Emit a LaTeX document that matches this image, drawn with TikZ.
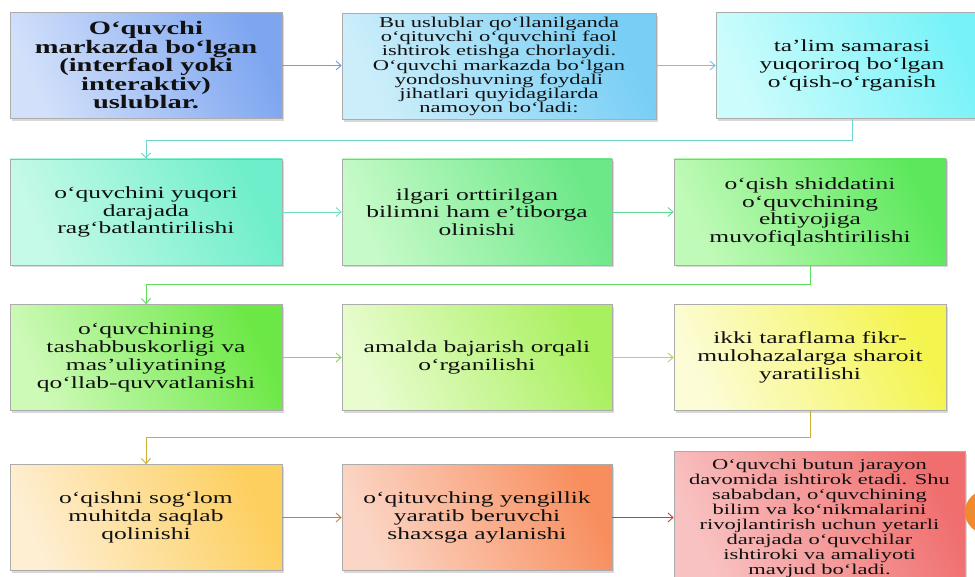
\documentclass[tikz,border=0pt]{standalone}
\usepackage{fontspec}
\setmainfont{Liberation Serif}[FakeStretch=1.5]
\usetikzlibrary{arrows.meta,shadows,calc}
\definecolor{txt}{HTML}{111111}
\definecolor{bal}{HTML}{D2E0FA}\definecolor{bad}{HTML}{7EA6F0}
\definecolor{bbl}{HTML}{CCEEFA}\definecolor{bbd}{HTML}{78CEF5}
\definecolor{bcl}{HTML}{CCFCFC}\definecolor{bcd}{HTML}{76F2F8}
\definecolor{cal}{HTML}{C6FAE8}\definecolor{cad}{HTML}{6EEECA}
\definecolor{cbl}{HTML}{C6FAC8}\definecolor{cbd}{HTML}{6CE888}
\definecolor{ccl}{HTML}{C0FAB8}\definecolor{ccd}{HTML}{5CE85C}
\definecolor{dal}{HTML}{CEFAB8}\definecolor{dad}{HTML}{6CE846}
\definecolor{dbl}{HTML}{E8FCCE}\definecolor{dbd}{HTML}{A8F05E}
\definecolor{dcl}{HTML}{FCFCD6}\definecolor{dcd}{HTML}{F4F44E}
\definecolor{eal}{HTML}{FEEED2}\definecolor{ead}{HTML}{FDCF5E}
\definecolor{ebl}{HTML}{FBD6C6}\definecolor{ebd}{HTML}{F88E5E}
\definecolor{ecl}{HTML}{F9C2C2}\definecolor{ecd}{HTML}{F06E6E}
\definecolor{k1c}{HTML}{6E9EE8}
\definecolor{k2c}{HTML}{6EC6EA}
\definecolor{k3c}{HTML}{6CD6D4}
\definecolor{k4c}{HTML}{6EE0BC}
\definecolor{k5c}{HTML}{5CD890}
\definecolor{k6c}{HTML}{5CDC5C}
\definecolor{k7c}{HTML}{7EDC4E}
\definecolor{k8c}{HTML}{B0DC4C}
\definecolor{k9c}{HTML}{C8AE32}
\definecolor{k10c}{HTML}{CC7E40}
\definecolor{k11c}{HTML}{C44632}
\definecolor{dotc}{HTML}{F08A2E}
\tikzset{
  box/.style={draw=gray!65, line width=0.7pt, minimum width=272pt,
    minimum height=106pt, inner sep=0pt, align=center, text=txt,
    font=\fontsize{17}{17.8}\selectfont,
    drop shadow={shadow xshift=2pt, shadow yshift=-2.5pt, opacity=.3}},
  grad/.style 2 args={bottom color=#1, top color=#2, shading angle=-65},
  conn/.style={line width=0.9pt, -{Straight Barb[length=5pt,width=9pt]}},
}
\begin{document}
\begin{tikzpicture}[x=1pt,y=-1pt]
\useasboundingbox (0,0) rectangle (975,577);
\clip (0,0) rectangle (975,577);
\fill[white] (0,0) rectangle (975,577);
% row 1
\node[box, grad={bal}{bad}, font=\bfseries\fontsize{19}{18.5}\selectfont] (B1) at (146,65.5)
  {O‘quvchi\\markazda bo‘lgan\\(interfaol yoki\\interaktiv)\\uslublar.};
\node[box, grad={bbl}{bbd}, minimum width=314pt, font=\fontsize{15}{14.3}\selectfont] (B2) at (499,66.5)
  {Bu uslublar qo‘llanilganda\\o‘qituvchi o‘quvchini faol\\ishtirok etishga chorlaydi.\\O‘quvchi markazda bo‘lgan\\yondoshuvning foydali\\jihatlari quyidagilarda\\namoyon bo‘ladi:};
\node[box, grad={bcl}{bcd}] (B3) at (852,65.5)
  {ta’lim samarasi\\yuqoriroq bo‘lgan\\o‘qish-o‘rganish};
% row 2
\node[box, grad={cal}{cad}] (C1) at (146,212)
  {o‘quvchini yuqori\\darajada\\rag‘batlantirilishi};
\node[box, grad={cbl}{cbd}, minimum width=270pt] (C2) at (477,212)
  {ilgari orttirilgan\\bilimni ham e’tiborga\\olinishi};
\node[box, grad={ccl}{ccd}] (C3) at (810,212)
  {o‘qish shiddatini\\o‘quvchining\\ehtiyojiga\\muvofiqlashtirilishi};
% row 3
\node[box, grad={dal}{dad}] (D1) at (146,357.5)
  {o‘quvchining\\tashabbuskorligi va\\mas’uliyatining\\qo‘llab-quvvatlanishi};
\node[box, grad={dbl}{dbd}, minimum width=270pt] (D2) at (477,357.5)
  {amalda bajarish orqali\\o‘rganilishi};
\node[box, grad={dcl}{dcd}] (D3) at (810,357.5)
  {ikki taraflama fikr-\\mulohazalarga sharoit\\yaratilishi};
% row 4
\node[box, grad={eal}{ead}] (E1) at (146,517.5)
  {o‘qishni sog‘lom\\muhitda saqlab\\qolinishi};
\node[box, grad={ebl}{ebd}, minimum width=270pt] (E2) at (477,517.5)
  {o‘qituvching yengillik\\yaratib beruvchi\\shaxsga aylanishi};
\node[box, grad={ecl}{ecd}, minimum width=291pt, minimum height=134pt,
  font=\fontsize{15}{15}\selectfont] (E3) at (819.5,518)
  {O‘quvchi butun jarayon\\davomida ishtirok etadi. Shu\\sababdan, o‘quvchining\\bilim va ko‘nikmalarini\\rivojlantirish uchun yetarli\\darajada o‘quvchilar\\ishtiroki va amaliyoti\\mavjud bo‘ladi.};
\node[circle, fill=dotc, minimum size=44pt, inner sep=0pt] (dot) at (987,512) {};
% connectors
\coordinate (k1) at (146,140);
\coordinate (k2) at (146,284);
\coordinate (k3) at (146,437);
\draw[conn, k1c] (B1.east) -- (B2.west |- B1.east);
\draw[conn, k2c] (B2.east |- B3.west) -- (B3.west);
\draw[conn, k3c] (B3.south) |- (k1) -- (C1.north);
\draw[conn, k4c] (C1.east) -- (C2.west);
\draw[conn, k5c] (C2.east) -- (C3.west);
\draw[conn, k6c] (C3.south) |- (k2) -- (D1.north);
\draw[conn, k7c] (D1.east) -- (D2.west);
\draw[conn, k8c] (D2.east) -- (D3.west);
\draw[conn, k9c] (D3.south) |- (k3) -- (E1.north);
\draw[conn, k10c] (E1.east) -- (E2.west);
\draw[conn, k11c] (E2.east) -- (E3.west |- E2.east);
\end{tikzpicture}
\end{document}
